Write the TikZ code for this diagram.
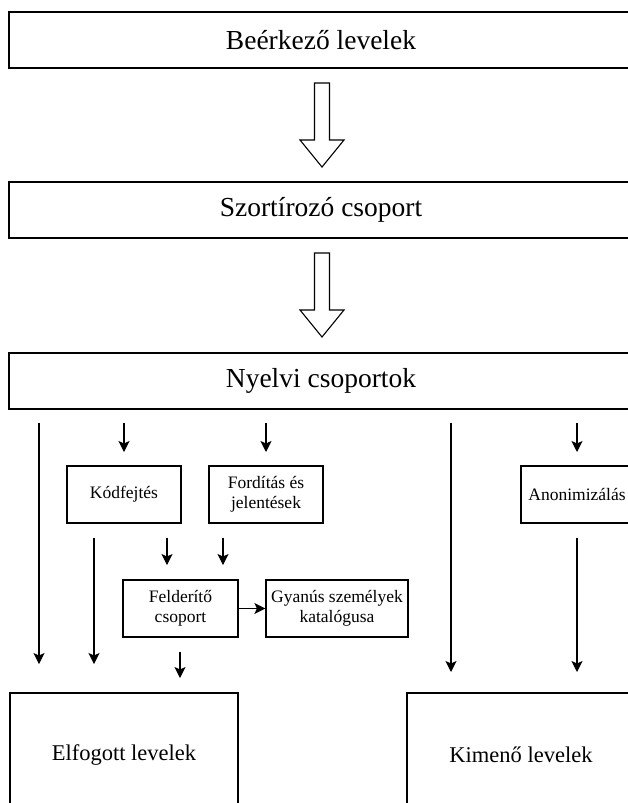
\documentclass[tikz,border=0pt]{standalone}
\usepackage{fontspec}
\setmainfont{Liberation Serif}
\newfontfamily\tnr{Liberation Serif}
\usetikzlibrary{arrows.meta}
\begin{document}
\begin{tikzpicture}[x=1pt,y=-1pt,
  bigbox/.style={draw, line width=1.2pt, inner sep=0pt, minimum width=624pt, minimum height=56pt, font=\tnr\fontsize{27.5}{30}\selectfont},
  smallbox/.style={draw, line width=1.2pt, inner sep=0pt, minimum height=57pt, align=center, font=\tnr\fontsize{17.5}{20}\selectfont},
  endbox/.style={draw, line width=1.2pt, inner sep=0pt, minimum width=228pt, minimum height=124pt, font=\tnr\fontsize{22.5}{26}\selectfont},
  arr/.style={line width=1.2pt, -{Stealth[length=11pt,width=11pt,inset=2.5pt]}},
  hollowarrow/.pic={\draw[line width=1.1pt, fill=white] (-7.5,0) -- (7.5,0) -- (7.5,57) -- (22,57) -- (0,84) -- (-22,57) -- (-7.5,57) -- cycle;}
]
\useasboundingbox (0,0) rectangle (628,803);

% main boxes
\node[bigbox] (b1) at (321,40) {Beérkező levelek};
\node[bigbox] (b2) at (321,210) {Szortírozó csoport};
\node[bigbox] (b3) at (321,381) {Nyelvi csoportok};

% hollow arrows
\pic at (322,83) {hollowarrow};
\pic at (322,253) {hollowarrow};

% middle boxes
\node[smallbox, minimum width=114pt] (kod) at (124,494.5) {Kódfejtés};
\node[smallbox, minimum width=114pt] (ford) at (266,494.5) {Fordítás és\\jelentések};
\node[smallbox, minimum width=112pt] (anon) at (577,494.5) {Anonimizálás};
\node[smallbox, minimum width=115pt] (feld) at (180.5,608.5) {Felderítő\\csoport};
\node[smallbox, minimum width=142pt] (gyan) at (337,608.5) {Gyanús személyek\\katalógusa};

% end boxes
\node[endbox] (elf) at (124,755) {Elfogott levelek};
\node[endbox] (kim) at (521,755) {Kimenő levelek};

% free ends of connectors
\coordinate (s1) at (39,423);   \coordinate (e1) at (39,664);
\coordinate (s2) at (124,423);  \coordinate (e2) at (124,452);
\coordinate (s3) at (266,423);  \coordinate (e3) at (266,452);
\coordinate (s4) at (577,423);  \coordinate (e4) at (577,452);
\coordinate (s5) at (94,538);   \coordinate (e5) at (94,664);
\coordinate (s6) at (167,538);  \coordinate (e6) at (167,565);
\coordinate (s7) at (223,538);  \coordinate (e7) at (223,565);
\coordinate (s8) at (180,652);  \coordinate (e8) at (180,678);
\coordinate (s9) at (451,423);  \coordinate (e9) at (451,672);
\coordinate (s10) at (577,538); \coordinate (e10) at (577,672);

\draw[arr] (s1) -- (e1);
\draw[arr] (s2) -- (e2);
\draw[arr] (s3) -- (e3);
\draw[arr] (s4) -- (e4);
\draw[arr] (s5) -- (e5);
\draw[arr] (s6) -- (e6);
\draw[arr] (s7) -- (e7);
\draw[arr] (s8) -- (e8);
\draw[arr] (s9) -- (e9);
\draw[arr] (s10) -- (e10);
\draw[arr] (feld.east) -- (gyan.west);
\end{tikzpicture}
\end{document}
